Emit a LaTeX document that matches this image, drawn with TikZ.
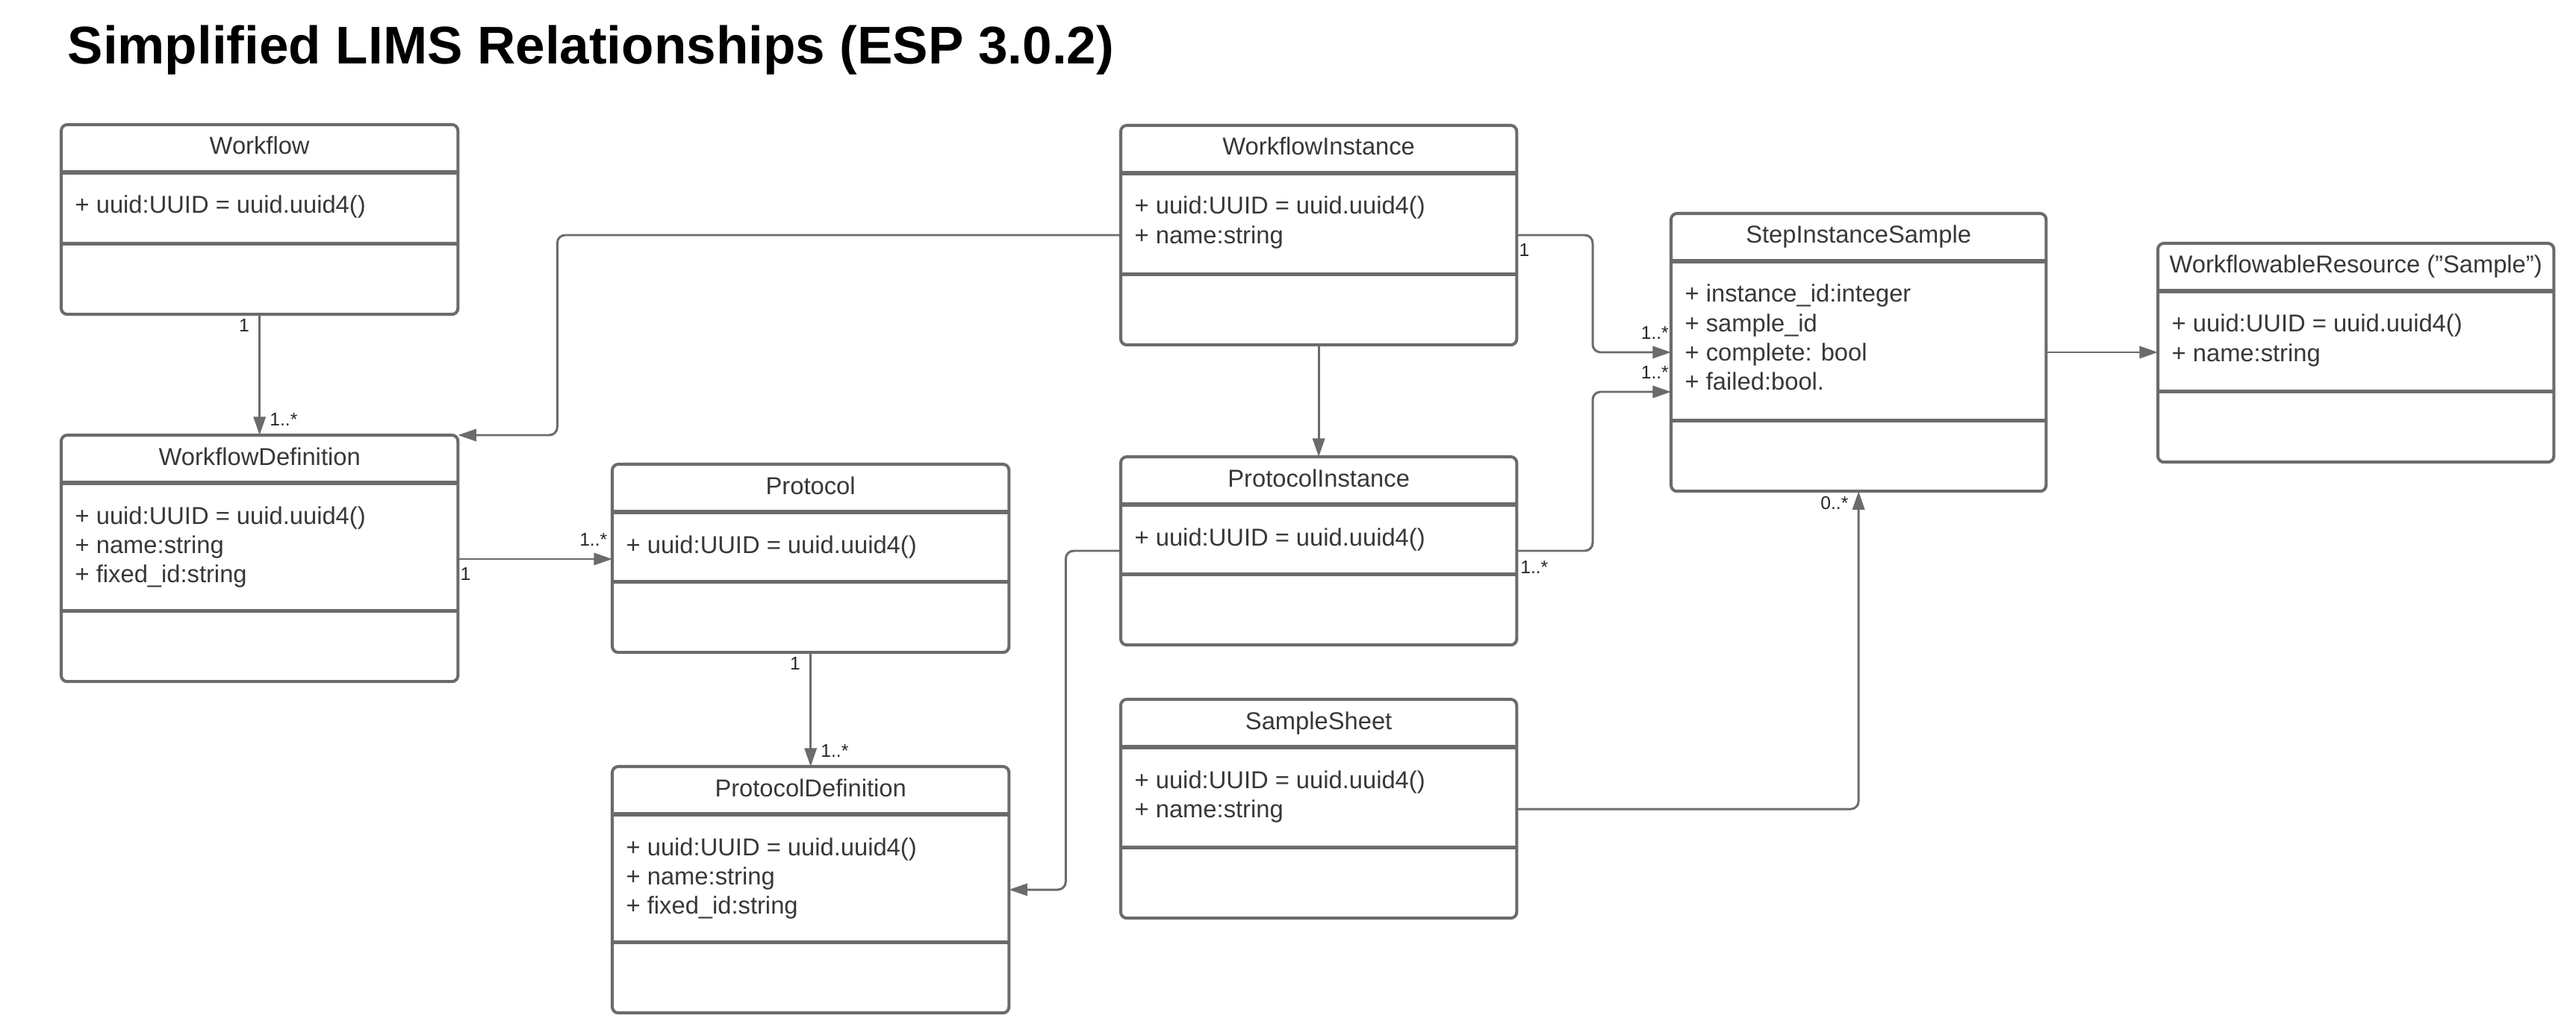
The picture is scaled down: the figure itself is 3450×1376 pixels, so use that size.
\documentclass[tikz,border=0pt]{standalone}
\usepackage{fontspec}
\setmainfont{Liberation Sans}
\usetikzlibrary{arrows.meta,calc,positioning}
\definecolor{umlgray}{HTML}{6B6B6B}
\definecolor{umltext}{HTML}{383838}

% one class box: name, x, y (north west), width, height, title, attributes
\newcommand{\umlclass}[7]{%
  \node[classbox,minimum width=#4*0.1mm,minimum height=#5*0.1mm] (#1) at (#2,#3) {};
  \draw[sepline] ($(#1.north west)+(0,64)$) -- ($(#1.north east)+(0,64)$);
  \draw[sepline] ($(#1.south west)+(0,-95)$) -- ($(#1.south east)+(0,-95)$);
  \node[classname] (#1-name) at ($(#1.north)+(0,40)$) {#6};
  \foreach \attr [count=\i from 0] in {#7}
    \node[classattr] (#1-a\i) at ($(#1.north west)+(18,119+39.3*\i)$) {\attr};
}

\begin{document}
\begin{tikzpicture}[x=0.01cm,y=-0.01cm,>=Latex,
  classbox/.style={draw=umlgray,line width=1.15pt,rounded corners=2.3pt,fill=white,
                   anchor=north west,inner sep=0pt,outer sep=0pt},
  sepline/.style={draw=umlgray,line width=1.5pt},
  classname/.style={font=\fontsize{9.3}{11}\selectfont,text=umltext,anchor=base,inner sep=0pt},
  classattr/.style={font=\fontsize{9.3}{11}\selectfont,text=umltext,anchor=base west,inner sep=0pt},
  conn/.style={draw=umlgray,line width=0.85pt,-{Triangle[length=7pt,width=4.6pt]}},
  mult/.style={font=\fontsize{7}{8}\selectfont,text=black!85,inner sep=1.5pt}]

  \useasboundingbox (0,0) rectangle (3450,1376);

  \node[anchor=base west,inner sep=0pt,font=\fontsize{20.2}{24}\selectfont\bfseries]
    (title) at (90,86) {Simplified LIMS Relationships (ESP 3.0.2)};

  \umlclass{wf}{82}{167}{531}{254}{Workflow}{+ uuid:UUID = uuid.uuid4()}
  \umlclass{wd}{82}{583}{531}{330}{WorkflowDefinition}
    {+ uuid:UUID = uuid.uuid4(),+ name:string,+ fixed\_id:string}
  \umlclass{proto}{820}{622}{531}{252}{Protocol}{+ uuid:UUID = uuid.uuid4()}
  \umlclass{pd}{820}{1027}{531}{330}{ProtocolDefinition}
    {+ uuid:UUID = uuid.uuid4(),+ name:string,+ fixed\_id:string}
  \umlclass{wi}{1501}{168}{530}{294}{WorkflowInstance}
    {+ uuid:UUID = uuid.uuid4(),+ name:string}
  \umlclass{pi}{1501}{612}{530}{252}{ProtocolInstance}{+ uuid:UUID = uuid.uuid4()}
  \umlclass{ss}{1501}{937}{530}{293}{SampleSheet}
    {+ uuid:UUID = uuid.uuid4(),+ name:string}
  \umlclass{sis}{2238}{286}{502}{372}{StepInstanceSample}
    {+ instance\_id:integer,+ sample\_id,+ complete: bool,+ failed:bool.}
  \umlclass{wr}{2890}{326}{530}{293}{WorkflowableResource ("Sample")}
    {+ uuid:UUID = uuid.uuid4(),+ name:string}

  % definitions
  \draw[conn] (wf.south) node[mult,below left,xshift=-2pt] {1}
    -- (wd.north) node[mult,above right,xshift=2pt,yshift=1.5pt] {1..*};
  \draw[conn] ($(wd.north east)+(0,166)$) node[mult,below right,xshift=-1pt,yshift=-1.5pt] {1}
    -- ($(proto.north west)+(0,127)$) node[mult,above left,yshift=3pt] {1..*};
  \draw[conn] (proto.south) node[mult,below left,xshift=-2pt] {1}
    -- (pd.north) node[mult,above right,xshift=2pt,yshift=1.5pt] {1..*};

  % instances
  \draw[conn,rounded corners=3pt] ($(wi.north west)+(0,147)$)
    -| ($(wd.north east)+(133,0)$) -- (wd.north east);
  \draw[conn] (wi.south) -- (pi.north);
  \draw[conn,rounded corners=3pt] ($(pi.north west)+(0,126)$)
    -| ($(pd.north east)+(76,165)$) -- ($(pd.north east)+(0,165)$);

  % samples
  \draw[conn,rounded corners=3pt] ($(wi.north east)+(0,147)$) node[mult,below right,xshift=-1pt,yshift=-1.5pt] {1}
    -| ($(sis.north west)+(-105,186)$) -- ($(sis.north west)+(0,186)$)
    node[mult,above left,xshift=1pt,yshift=3pt] {1..*};
  \draw[conn,rounded corners=3pt] ($(pi.north east)+(0,126)$) node[mult,below right,xshift=-0.5pt,yshift=-2pt] {1..*}
    -| ($(sis.north west)+(-105,239)$) -- ($(sis.north west)+(0,239)$)
    node[mult,above left,xshift=1pt,yshift=3pt] {1..*};
  \draw[conn] ($(sis.north east)+(0,186)$) -- ($(wr.north west)+(0,146)$);
  \draw[conn,rounded corners=3pt] ($(ss.north east)+(0,147)$)
    -| (sis.south) node[mult,below left,xshift=-2pt] {0..*};
\end{tikzpicture}
\end{document}
